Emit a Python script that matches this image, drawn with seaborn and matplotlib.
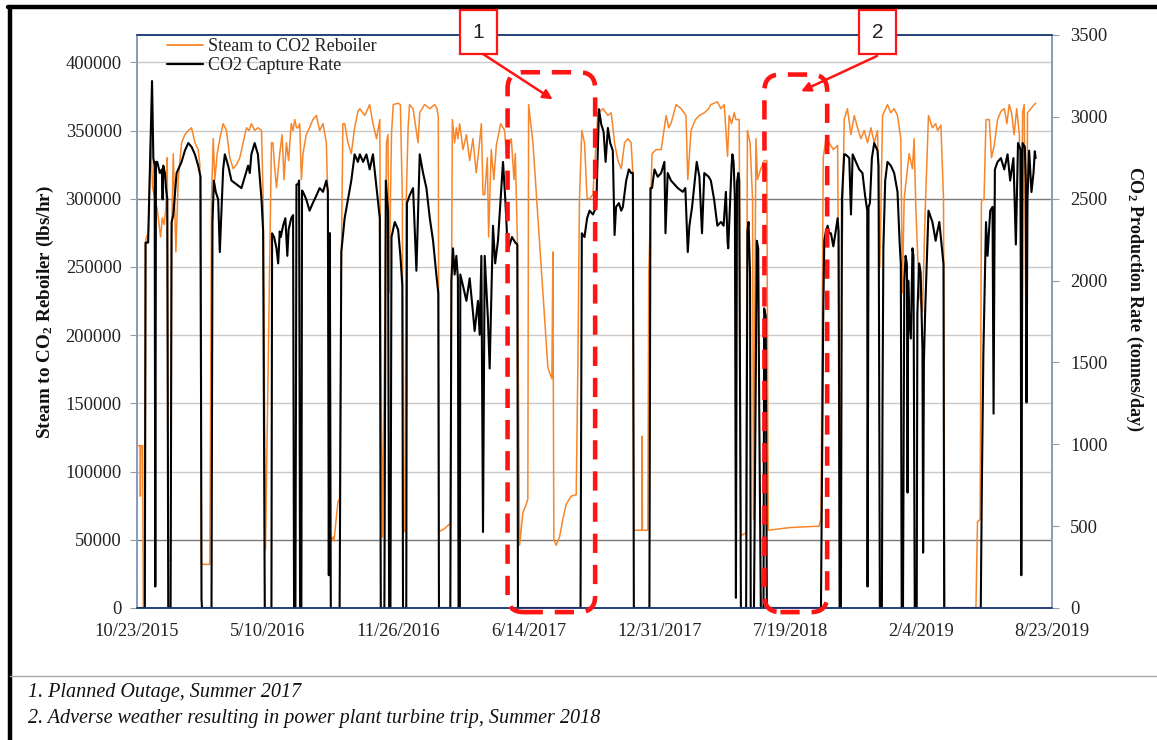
import numpy as np
import pandas as pd
import matplotlib
matplotlib.use("Agg")
import matplotlib.pyplot as plt
from matplotlib.patches import FancyBboxPatch, Rectangle, FancyArrowPatch
from matplotlib.lines import Line2D
from matplotlib.transforms import IdentityTransform
import matplotlib.dates as mdates
import seaborn as sns

# ---------------------------------------------------------------- data
START = pd.Timestamp("2015-10-23")
END = pd.Timestamp("2019-08-23")

# Steam to CO2 reboiler: days since START, thousand lbs/hr
steam_day = [
    0, 0.5, 4.6, 5.2, 6, 8.6, 9.7, 12.2, 13.7, 17.3, 20.9, 23.9, 27.5, 31, 36.1,
    38.7, 41.7, 44.3, 46.3, 47.8, 51.4, 52.9, 55.5, 59.5, 63.1, 68.2, 73.3, 78.4,
    83.5, 88.6, 93.6, 96.2, 98.7, 111.5, 114, 116.6, 119.1, 122.7, 126.7, 131.8,
    136.9, 142, 147.1, 152.2, 157.3, 162.4, 167.5,
    171.5, 175, 180, 185, 190.5, 193, 196.6, 205.7, 208, 209.8, 213.4, 218.4, 222,
    225, 228.6, 232, 236, 238.8, 241.4, 244, 246.4, 249, 251.5, 254, 259, 264, 269,
    274.4, 279.5, 284.6, 289.7, 292, 294.8, 300, 301.4, 307.5, 310, 312.6, 315,
    317.7, 322.8, 327.9, 333, 338,
    341, 348.6, 356, 361, 366.5, 371.5, 373, 375.6, 379, 381.7, 384, 385.8, 387.8,
    389.4, 392, 399.5, 403, 406, 407, 409.7, 412, 414.8, 417, 422.4, 430, 432.6,
    440, 448, 455.5, 459, 461, 462, 470, 479.4, 482.5, 486, 488.6, 491, 493.7,
    498.8, 504, 509, 514, 519, 523,
    526.9, 529.4, 532, 536, 538, 542, 546, 549.8, 556.4, 562.5, 565, 572.7, 576.8,
    578.8, 581.9, 585.4, 590.5, 595.6, 598, 599.2, 605.8, 613.4, 621, 628.7, 634.8,
    636.3, 637.8, 641.4, 646.5, 651.6, 656.7, 664.3, 672, 674.5, 677, 680.6, 684.7,
    688.7,
    692.5, 697.6, 705.2, 712.9, 720.5, 725.6, 730.7, 735.8, 740.9, 746, 751, 756,
    758.7, 760.2, 772.6, 773, 773.4, 781.6, 783, 788, 794.3, 802, 809.6, 813.6, 817,
    824.8, 832.5, 840, 842.7, 847.7, 854.4, 860.5, 868, 874.7,
    878, 888, 893.5, 898.5, 903.6, 906, 909.7, 913.8, 916.4, 921.4, 924, 931.6, 934,
    938, 941.8, 943.3, 947, 949.4, 954.5, 959.6, 963.7, 965.7, 1000, 1043.6, 1046.5,
    1050, 1054, 1059, 1065.4, 1072, 1075.6, 1078.6, 1082, 1087, 1092.4, 1097.4,
    1102.5, 1107.6, 1112.7, 1117.8, 1123, 1128, 1133, 1136.6, 1140.7, 1148.3,
    1153.4, 1158.5, 1163.6, 1168.7, 1171, 1173.8, 1181.4, 1186.5, 1189, 1191.6,
    1196.7, 1201.8, 1205.9, 1211, 1217, 1222,
    1225, 1230, 1234, 1236, 1283.6, 1286, 1290, 1292, 1296, 1299, 1304, 1307.5,
    1311.6, 1316.7, 1321.8, 1327, 1331, 1334.5, 1338, 1342, 1346, 1350, 1353, 1355,
    1357.4, 1361, 1362.5, 1367.6, 1372.7, 1375,
]
steam_klbhr = [
    24, 119, 119, 82, 119, 119, 0, 0, 271, 275, 344, 308, 300, 292, 272,
    286, 281, 294, 330, 35, 35, 272, 333, 261, 314, 341, 347, 350,
    352, 341, 336, 325, 32, 32, 300, 344, 314, 333, 344, 355,
    350, 330, 322, 325, 330, 341, 352,
    350, 355, 350, 352, 350, 300, 43, 341, 341, 328, 308, 333, 347,
    314, 341, 328, 355, 350, 358, 352, 352, 355, 314, 333, 347, 352, 358,
    361, 350, 355, 341, 300, 49, 52, 49, 78, 80, 250, 355,
    355, 341, 333, 352, 364,
    366, 361, 369, 355, 344, 358, 200, 52, 200, 341, 347, 231, 300,
    347, 369, 370, 369, 300, 56, 56, 300, 352, 369, 366, 341, 363,
    369, 366, 369, 366, 360, 56, 58, 62, 358, 341, 352, 344, 355,
    336, 347, 328, 344, 319, 336,
    355, 303, 303, 330, 272, 336, 314, 339, 355, 350, 333, 344, 314,
    333, 272, 46, 70, 76, 80, 369, 341, 286, 231, 176, 168,
    261, 50, 46, 52, 65, 76, 82, 83, 176, 300, 350, 341,
    300,
    300, 303, 363, 366, 361, 363, 341, 328, 322, 341, 344, 341,
    319, 57, 57, 126, 57, 57, 245, 333, 336, 336, 361, 352, 355,
    369, 366, 361, 314, 350, 358, 361, 363, 366,
    369, 371, 366, 369, 331, 361, 355, 363, 358, 358, 53, 55, 350,
    341, 300, 65, 344, 314, 322, 328, 328, 57, 59, 60, 65,
    330, 344, 341, 336, 339, 57, 250, 358, 366, 347, 361,
    352, 344, 350, 341, 352, 341, 350, 250, 361, 369,
    363, 366, 361, 344, 231, 300, 333, 322, 344, 294,
    231, 217, 290, 361, 352, 355,
    350, 354, 300, 0, 0, 63, 65, 298, 300, 358, 358, 330,
    339, 358, 364, 366, 355, 369, 363, 347, 366, 347, 200, 363,
    369, 150, 363, 366, 369, 370,
]

# CO2 capture rate: days since START, tonnes/day
co2_day = [
    0, 12, 13, 17, 20.5, 23, 25, 27, 28, 29, 31, 35, 38, 39.2, 40.2, 42.7, 44.3,
    46.3, 47.8, 51.4, 52.9, 55.5, 60.6, 65.7, 68.2, 73.3, 78.4, 83.5, 88.6, 93.6,
    97.2, 98.7, 99.5, 114, 115.5, 117.6, 120.6, 124.2, 126.7, 131.8, 134.4, 139.5,
    144.5, 152.2, 159.8, 164.9,
    170, 172.6, 175, 180, 185, 190.5, 193, 195.5, 205.7, 206.7, 209.8, 213.4, 216,
    218.4, 220, 223.5, 227, 230, 232, 236, 238.8, 240.3, 242.4, 244, 246.4, 248,
    249.5, 251.5, 252.5, 254, 259, 264, 269, 274.4, 279.5, 284.6, 289.7, 292,
    293.5, 295, 296.5, 310, 312.6, 317.7, 322.8, 327.9, 333, 338,
    341, 346, 351, 356, 361, 366.5, 371.5, 373, 378.5, 380.7, 384, 385.8, 387.8,
    389.4, 394.4, 399.5, 403, 406, 407, 412, 413, 417, 422.4, 427.5, 432.6, 437.7,
    442.8, 448, 453, 458, 461, 462, 479.4, 481, 483.5, 486, 488.6, 491, 492, 494,
    494.7, 498.8, 504, 509, 514, 516.6, 521.7,
    524.3, 526.9, 529.4, 532, 537, 539.6, 544.7, 548, 552.3, 556.4, 560, 563.5,
    566.6, 568.6, 573.7, 578.8, 581.9, 582.9, 678.6, 680.6, 684.7, 688.7,
    692.5, 697.6, 702.7, 706.8, 710.3, 713.9, 717, 720.5, 724, 728, 730.7, 733,
    737.3, 740.9, 743.4, 748.5, 752.6, 756, 758.7, 760.2, 784, 785.6, 788, 791.8,
    796.8, 802, 807, 808.6, 812, 817, 822.3, 827.4, 835, 839, 842.7, 845.2, 849.3,
    852.8, 856.4, 860.5, 864.5, 868, 874.7,
    878, 883, 888, 893.5, 897.5, 901, 903.6, 904.6, 909.7, 911, 912.8, 914.8, 916.4,
    918, 920, 921.4, 924, 932, 934, 935.7, 938, 939, 944, 948.4, 950.5, 952, 954.5,
    958.6, 959.6, 962, 963.7, 1046.5,
    1048, 1050, 1051.6, 1054, 1056.7, 1059, 1061.8, 1065.4, 1069, 1072, 1073.5,
    1075, 1077, 1078.6, 1082, 1083.7, 1087, 1089.8, 1092.4, 1095, 1100, 1105, 1110,
    1114, 1117.3, 1117.8, 1119.3, 1121.4, 1124.4, 1128, 1133, 1134.6, 1136.6,
    1139.7, 1140.7, 1142, 1144.8, 1148.3, 1153.4, 1158.5, 1163.6, 1167, 1168.7,
    1170, 1172, 1174, 1176, 1178, 1179, 1180, 1181.4, 1184, 1186.5, 1188, 1190,
    1193, 1194, 1196.7, 1199, 1201.8, 1202.8, 1204, 1205.9, 1211, 1217, 1222,
    1224, 1227.6, 1231, 1234, 1235, 1291, 1292.8, 1295, 1299, 1301.4, 1305.5, 1309,
    1310.6, 1312.6, 1316.7, 1321.8, 1327, 1332, 1336, 1341, 1344.7, 1348, 1352,
    1353, 1355, 1358.4, 1360, 1361, 1362.5, 1365, 1368.6, 1371.7, 1373.7, 1375,
]
co2_tpd = [
    0, 0, 2232, 2232, 2800, 3219, 2748, 2700, 131, 2725, 2725, 2657, 2679, 2496,
    2702, 2657, 2565, 2500, 0, 0, 2357, 2400, 2657, 2702, 2725, 2794, 2840, 2817,
    2771, 2702, 2634, 51, 0, 0, 2358, 2611, 2540, 2496, 2174, 2680, 2771, 2702,
    2611, 2588, 2565, 2634,
    2702, 2657, 2771, 2840, 2771, 2496, 2300, 0, 0, 2289, 2266, 2197, 2105,
    2300, 2266, 2335, 2381, 2151, 2312, 2381, 2400, 0, 0, 2587, 2587, 2611,
    0, 0, 2550, 2542, 2496, 2427, 2473, 2519, 2565, 2542, 2611, 2550,
    200, 2290, 0, 0, 2174, 2381, 2496, 2611, 2771, 2725,
    2771, 2725, 2771, 2679, 2771, 2565, 2381, 0, 0, 2611, 2427, 0, 0,
    2266, 2358, 2312, 2151, 1968, 0, 0, 2473, 2519, 2565, 2060, 2771, 2657,
    2565, 2381, 2243, 2037, 1922, 0, 0, 2000, 2197, 2037, 2151, 2014, 0, 0,
    2037, 1968, 1876, 2014, 1807, 1692, 1876,
    1669, 2151, 464, 2151, 1761, 1463, 2335, 2105, 2243, 2496, 2725, 2496,
    2243, 2197, 2266, 2232, 2220, 0, 0, 2289, 2266, 2381,
    2427, 2404, 2450, 3047, 2955, 2909, 2725, 2932, 2840, 2794, 2278, 2450,
    2473, 2427, 2450, 2611, 2679, 2657, 2657, 0, 0, 2565, 2565, 2679,
    2634, 2657, 2725, 2289, 2657, 2611, 2588, 2565, 2542, 2565, 2174, 2335, 2450,
    2588, 2725, 2634, 2289, 2657, 2634,
    2611, 2496, 2335, 2358, 2335, 2542, 2240, 2197, 2700, 2771, 2725, 2500, 62,
    2600, 2657, 2611, 0, 0, 2300, 2358, 2037, 0, 0, 2243, 2197, 1233, 0,
    0, 1830, 1784, 0, 0,
    774, 1800, 2243, 2300, 2335, 2289, 2289, 2209, 2300, 2381, 2300,
    0, 0, 2500, 2771, 2771, 2760, 2748, 2404, 2771, 2725, 2679, 2657,
    2519, 2427, 131, 2450, 2473, 2748, 2840, 2794, 2700, 0,
    0, 1256, 2200, 2611, 2725, 2702, 2657, 2542, 2220, 2100,
    0, 0, 2000, 2151, 2100, 705, 2000, 1784, 1646, 2197, 2150, 0,
    0, 1800, 2105, 2050, 1577, 338, 1500, 1807, 2427, 2358, 2243,
    2289, 2358, 2220, 2100, 0, 0, 797, 1554, 2357, 2151, 2427, 2450,
    1187, 2679, 2725, 2748, 2679, 2771, 2611, 2748, 2220, 2840, 2800,
    200, 2840, 2817, 2600, 1256, 2500, 2794, 2541, 2657, 2790, 2748,
]

series_labels = ["Steam to CO2 Reboiler", "CO2 Capture Rate"]
x_tick_labels = ["10/23/2015", "5/10/2016", "11/26/2016", "6/14/2017",
                 "12/31/2017", "7/19/2018", "2/4/2019", "8/23/2019"]
x_tick_step_days = 200
left_ticks = list(range(0, 400001, 50000))
right_ticks = list(range(0, 3501, 500))
notes = ["1. Planned Outage, Summer 2017",
         "2. Adverse weather resulting in power plant turbine trip, Summer 2018"]

# highlighted periods (days since START, lbs/hr extent) and callout numbers
outage_1 = dict(days=(567, 701), top=392700, label="1", arrow_to=(636, 372800),
                box_px=(460, 10, 497, 54), tail_px=(483, 54))
outage_2 = dict(days=(960, 1056), top=391000, label="2", arrow_to=(1016, 378700),
                box_px=(859, 10, 896, 54), tail_px=(877, 56))

ORANGE = "#F7862A"
BLACK = "#000000"
RED = "#FF1414"

# ---------------------------------------------------------------- style
sns.set_theme(style="white")
plt.rcParams["font.family"] = ["Liberation Serif", "DejaVu Serif"]
plt.rcParams["mathtext.fontset"] = "custom"
plt.rcParams["mathtext.rm"] = "Liberation Serif"
plt.rcParams["mathtext.bf"] = "Liberation Serif:bold"
plt.rcParams["mathtext.it"] = "Liberation Serif:italic"

W, H = 1157, 740
fig = plt.figure(figsize=(W / 100, H / 100), dpi=100)
fig.patch.set_facecolor("white")
ax = fig.add_axes([137 / W, 1 - 608 / H, (1052 - 137) / W, (608 - 35) / H])
ax2 = ax.twinx()

steam_df = pd.DataFrame({
    "date": START + pd.to_timedelta(steam_day, unit="D"),
    "steam": np.asarray(steam_klbhr, dtype=float) * 1000.0,
})
co2_df = pd.DataFrame({
    "date": START + pd.to_timedelta(co2_day, unit="D"),
    "co2": np.asarray(co2_tpd, dtype=float),
})

sns.lineplot(data=steam_df, x="date", y="steam", ax=ax, color=ORANGE,
             linewidth=1.1, estimator=None, sort=False, legend=False)
sns.lineplot(data=co2_df, x="date", y="co2", ax=ax2, color=BLACK,
             linewidth=1.5, estimator=None, sort=False, legend=False)

# axes limits and ticks
ax.set_xlim(START, END)
xticks = [START + pd.Timedelta(days=x_tick_step_days * i) for i in range(len(x_tick_labels))]
ax.set_xticks(xticks)
ax.set_xticklabels(x_tick_labels)
ax.set_ylim(0, 420000)
ax.set_yticks(left_ticks)
ax.set_yticklabels([str(v) for v in left_ticks])
ax2.set_ylim(0, 3500)
ax2.set_yticks(right_ticks)
ax2.set_yticklabels([str(v) for v in right_ticks])
ax.set_xlabel("")

for a in (ax, ax2):
    a.tick_params(axis="both", which="major", direction="out", length=5, width=0.8,
                  color="#9A9A9A", labelsize=13.3, labelcolor="#222222")
ax.tick_params(axis="y", pad=6)
ax2.tick_params(axis="y", pad=8)
ax.tick_params(axis="x", pad=6)

# horizontal gridlines
ax.set_axisbelow(True)
ax.yaxis.grid(True, color="#C9C9C9", linewidth=1.0)
ax.xaxis.grid(False)
for tick_val, gl in zip(left_ticks, ax.yaxis.get_gridlines()):
    if tick_val in (50000, 300000):
        gl.set_color("#7A7A7A")

for a in (ax, ax2):
    for side in ("top", "bottom"):
        a.spines[side].set_color("#23407A")
        a.spines[side].set_linewidth(1.2)
    for side in ("left", "right"):
        a.spines[side].set_color("#8C9CBD")
        a.spines[side].set_linewidth(1.3)

ax.set_ylabel(r"Steam to CO$_\mathbf{2}$ Reboiler (lbs/hr)", fontsize=13.8,
              fontweight="bold", color="#111111")
ax.yaxis.set_label_coords(-0.0885, 0.517)
ax2.set_ylabel(r"CO$_\mathbf{2}$ Production Rate (tonnes/day)", fontsize=13,
               fontweight="bold", color="#111111", rotation=270, va="bottom")
ax2.yaxis.set_label_coords(1.0785, 0.54)

# legend
handles = [Line2D([], [], color=ORANGE, linewidth=1.3),
           Line2D([], [], color=BLACK, linewidth=1.6)]
fig.legend(handles, series_labels, loc="upper left",
           bbox_to_anchor=(167 / W, 1 - 38 / H), frameon=False, fontsize=13,
           handlelength=2.0, handletextpad=0.25, labelspacing=0.12,
           borderpad=0, borderaxespad=0, labelcolor="#222222")

# ---------------------------------------------------------------- callouts
ident = IdentityTransform()


def to_px(day, value):
    xnum = mdates.date2num(START + pd.Timedelta(days=day))
    return ax.transData.transform((xnum, value))


for spec in (outage_1, outage_2):
    d0, d1 = spec["days"]
    x0, y0 = to_px(d0, -3000)
    x1, y1 = to_px(d1, spec["top"])
    box = FancyBboxPatch((x0, y0), x1 - x0, y1 - y0,
                         boxstyle="round,pad=0,rounding_size=16",
                         transform=ident, fill=False, edgecolor=RED,
                         linewidth=3.3, linestyle=(0, (4.2, 2.6)), zorder=20,
                         clip_on=False)
    fig.add_artist(box)

    bx0, by0, bx1, by1 = spec["box_px"]
    rect = Rectangle((bx0, H - by1), bx1 - bx0, by1 - by0, transform=ident,
                     facecolor="white", edgecolor=RED, linewidth=1.6, zorder=22)
    fig.add_artist(rect)
    fig.text((bx0 + bx1) / 2, H - (by0 + by1) / 2, spec["label"], transform=ident,
             ha="center", va="center", fontsize=15, family="Liberation Sans",
             color="#222222", zorder=23)

    hx, hy = to_px(*spec["arrow_to"])
    tx, ty = spec["tail_px"]
    arrow = FancyArrowPatch((tx, H - ty), (hx, hy), transform=ident,
                            arrowstyle="-|>", mutation_scale=14, color=RED,
                            linewidth=1.8, shrinkA=0, shrinkB=0, zorder=21)
    fig.add_artist(arrow)

# ---------------------------------------------------------------- frame and notes
fig.add_artist(Line2D([8 / W, 1], [1 - 7 / H, 1 - 7 / H], transform=fig.transFigure,
                      color="black", linewidth=3.2))
fig.add_artist(Line2D([10 / W, 10 / W], [0, 1 - 7 / H], transform=fig.transFigure,
                      color="black", linewidth=3.2))
fig.add_artist(Line2D([10 / W, 1], [1 - 676 / H, 1 - 676 / H], transform=fig.transFigure,
                      color="#A8A8A8", linewidth=1.0))

fig.text(28 / W, 1 - 692 / H, notes[0], fontsize=14.5, style="italic",
         ha="left", va="center", color="#111111")
fig.text(28 / W, 1 - 718 / H, notes[1], fontsize=14.5, style="italic",
         ha="left", va="center", color="#111111")

fig.savefig("out.png", dpi=100, facecolor="white")
